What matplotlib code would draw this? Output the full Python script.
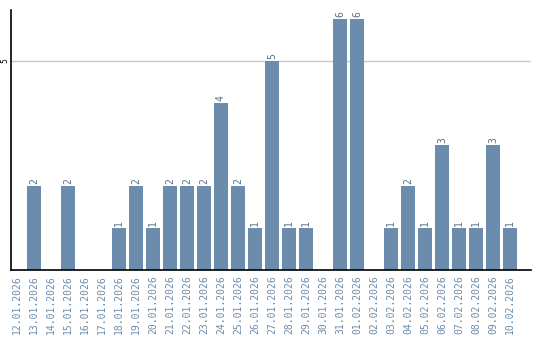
import matplotlib
matplotlib.use("Agg")
import matplotlib.pyplot as plt

dates = ["12.01.2026", "13.01.2026", "14.01.2026", "15.01.2026", "16.01.2026",
         "17.01.2026", "18.01.2026", "19.01.2026", "20.01.2026", "21.01.2026",
         "22.01.2026", "23.01.2026", "24.01.2026", "25.01.2026", "26.01.2026",
         "27.01.2026", "28.01.2026", "29.01.2026", "30.01.2026", "31.01.2026",
         "01.02.2026", "02.02.2026", "03.02.2026", "04.02.2026", "05.02.2026",
         "06.02.2026", "07.02.2026", "08.02.2026", "09.02.2026", "10.02.2026"]
values = [0, 2, 0, 2, 0, 0, 1, 2, 1, 2, 2, 2, 4, 2, 1, 5, 1, 1, 0, 6,
          6, 0, 1, 2, 1, 3, 1, 1, 3, 1]

bar_color = "#6b8cac"
label_color = "#6b8cac"

fig = plt.figure(figsize=(5.4, 3.4), dpi=100)
ax = fig.add_axes([11/540, 70/340, 520/540, 260/340])

x = list(range(len(dates)))
ax.bar(x, values, width=0.82, color=bar_color, zorder=2)
for xi, v in zip(x, values):
    if v > 0:
        ax.text(xi, v + 0.05, str(v), rotation=90, ha="center", va="bottom",
                fontsize=7, color="#5a6f85", family="DejaVu Sans Mono")

ax.set_xlim(-0.35, 30.24)
ax.set_ylim(0, 6.22)
ax.set_yticks([5])
ax.set_yticklabels(["5"], rotation=90, va="center", fontsize=5.5, color="black")
ax.yaxis.grid(True, color="#c8c8c8", linewidth=1, zorder=0)
ax.tick_params(axis="y", length=0, pad=1.5)
ax.set_xticks(x)
ax.set_xticklabels(dates, rotation=90, fontsize=7, color=label_color,
                   family="DejaVu Sans Mono")
ax.tick_params(axis="x", length=0, pad=4)
for s in ["top", "right"]:
    ax.spines[s].set_visible(False)
ax.spines["left"].set_color("black")
ax.spines["bottom"].set_color("black")
ax.spines["left"].set_linewidth(1.2)
ax.spines["bottom"].set_linewidth(1.2)

fig.savefig("out.png", dpi=100)
